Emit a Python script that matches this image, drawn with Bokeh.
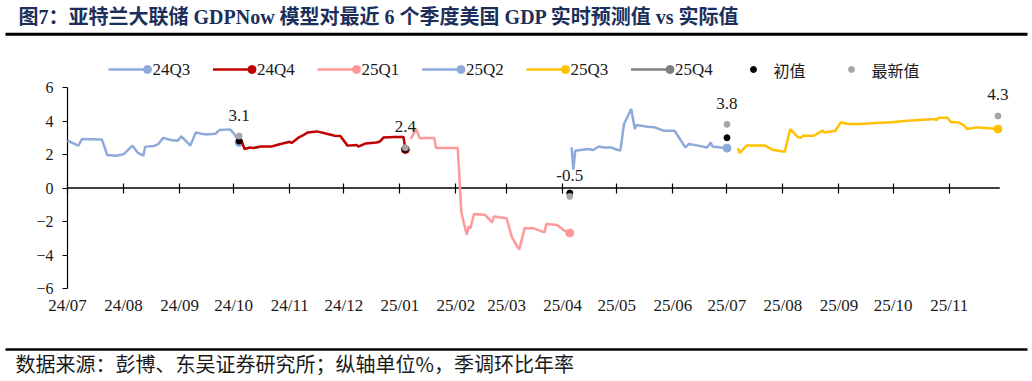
import pandas as pd
from bokeh.plotting import figure
from bokeh.models import Range1d, DatetimeAxis, LinearAxis, DatetimeTickFormatter, FixedTicker, ColumnDataSource
from bokeh.core.properties import value
from bokeh.embed import file_html
from bokeh.resources import INLINE

# ---------------- data ----------------
TITLE = "图7：亚特兰大联储 GDPNow 模型对最近 6 个季度美国 GDP 实时预测值 vs 实际值"
FOOTER = "数据来源：彭博、东吴证券研究所；纵轴单位%，季调环比年率"

d_24q3 = ["2024-07-01", "2024-07-07", "2024-07-09", "2024-07-20", "2024-07-23", "2024-07-28",
          "2024-08-01", "2024-08-06", "2024-08-09", "2024-08-12", "2024-08-13", "2024-08-18",
          "2024-08-20", "2024-08-23", "2024-08-27", "2024-08-31", "2024-09-02", "2024-09-07",
          "2024-09-10", "2024-09-13", "2024-09-16", "2024-09-21", "2024-09-23", "2024-09-29",
          "2024-10-01", "2024-10-03", "2024-10-04"]
v_24q3 = [2.82, 2.53, 2.92, 2.90, 1.97, 1.93, 2.01, 2.53, 2.09, 1.93, 2.47, 2.51,
          2.60, 2.99, 2.87, 2.82, 3.08, 2.53, 3.32, 3.24, 3.20, 3.24, 3.46, 3.50,
          3.26, 2.93, 2.72]

d_24q4 = ["2024-10-05", "2024-10-07", "2024-10-10", "2024-10-12", "2024-10-16", "2024-10-22",
          "2024-10-27", "2024-11-01", "2024-11-02", "2024-11-06", "2024-11-08", "2024-11-11",
          "2024-11-16", "2024-11-22", "2024-11-26", "2024-11-29", "2024-12-03", "2024-12-08",
          "2024-12-09", "2024-12-13", "2024-12-19", "2024-12-21", "2024-12-23", "2024-12-29",
          "2025-01-03", "2025-01-04"]
v_24q4 = [2.90, 2.33, 2.42, 2.39, 2.48, 2.48, 2.63, 2.76, 2.69, 3.02, 3.12, 3.32,
          3.38, 3.22, 3.12, 3.10, 2.53, 2.57, 2.47, 2.66, 2.72, 2.78, 3.02, 3.04,
          3.04, 2.30]

d_25q1 = ["2025-01-07", "2025-01-10", "2025-01-12", "2025-01-14", "2025-01-20", "2025-01-21",
          "2025-02-02", "2025-02-04", "2025-02-07", "2025-02-08", "2025-02-09", "2025-02-11",
          "2025-02-17", "2025-02-21", "2025-02-22", "2025-03-01", "2025-03-04", "2025-03-08",
          "2025-03-11", "2025-03-16", "2025-03-22", "2025-03-23", "2025-03-29", "2025-04-02",
          "2025-04-05"]
v_25q1 = [2.93, 3.52, 2.96, 2.99, 2.99, 2.39, 2.39, -1.46, -2.81, -2.29, -2.41, -1.55,
          -1.59, -2.05, -1.70, -1.81, -2.95, -3.68, -2.41, -2.41, -2.65, -2.15, -2.21, -2.55,
          -2.69]

d_25q2 = ["2025-04-06", "2025-04-07", "2025-04-08", "2025-04-12", "2025-04-15", "2025-04-18",
          "2025-04-21", "2025-04-24", "2025-04-28", "2025-04-30", "2025-05-03", "2025-05-05",
          "2025-05-09", "2025-05-11", "2025-05-12", "2025-05-18", "2025-05-22", "2025-05-27",
          "2025-06-02", "2025-06-08", "2025-06-10", "2025-06-15", "2025-06-20", "2025-06-22",
          "2025-06-23", "2025-07-01"]
v_25q2 = [2.42, 1.09, 2.23, 2.29, 2.33, 2.27, 2.48, 2.42, 2.42, 2.33, 2.23, 3.82,
          4.72, 3.52, 3.76, 3.66, 3.62, 3.42, 3.42, 2.42, 2.63, 2.53, 2.42, 2.72,
          2.48, 2.38]

d_25q3 = ["2025-07-07", "2025-07-08", "2025-07-12", "2025-07-22", "2025-07-26", "2025-08-02",
          "2025-08-05", "2025-08-09", "2025-08-11", "2025-08-12", "2025-08-18", "2025-08-23",
          "2025-08-24", "2025-08-30", "2025-09-02", "2025-09-06", "2025-09-13", "2025-09-21",
          "2025-09-30", "2025-10-09", "2025-10-24", "2025-10-25", "2025-10-26", "2025-10-31",
          "2025-11-02", "2025-11-06", "2025-11-09", "2025-11-11", "2025-11-16", "2025-11-28"]
v_25q3 = [2.37, 2.09, 2.53, 2.53, 2.29, 2.17, 3.52, 3.06, 2.99, 3.12, 3.12, 3.42,
          3.32, 3.42, 3.92, 3.82, 3.82, 3.88, 3.92, 4.02, 4.12, 4.04, 4.20, 4.20,
          3.92, 3.92, 3.76, 3.52, 3.62, 3.52]

d_25q4 = []
v_25q4 = []

series_names = ["24Q3", "24Q4", "25Q1", "25Q2", "25Q3", "25Q4"]
series_dates = [d_24q3, d_24q4, d_25q1, d_25q2, d_25q3, d_25q4]
series_vals = [v_24q3, v_24q4, v_25q1, v_25q2, v_25q3, v_25q4]
series_colors = ["#8eaadb", "#c00000", "#ff9999", "#8eaadb", "#ffc000", "#7f7f7f"]

release_dates = ["2024-10-04", "2025-01-04", "2025-04-05", "2025-07-01", "2025-11-28"]
initial_vals = [2.8, 2.3, -0.3, 3.0, float("nan")]
latest_vals = [3.1, 2.4, -0.5, 3.8, 4.3]
latest_labels = ["3.1", "2.4", "-0.5", "3.8", "4.3"]

x_tick_months = ["2024-07-01", "2024-08-01", "2024-09-01", "2024-10-01", "2024-11-01",
                 "2024-12-01", "2025-01-01", "2025-02-01", "2025-03-01", "2025-04-01",
                 "2025-05-01", "2025-06-01", "2025-07-01", "2025-08-01", "2025-09-01",
                 "2025-10-01", "2025-11-01"]
x_axis_start = "2024-07-01"
x_axis_end = "2025-11-29"
y_ticks = [-6, -4, -2, 0, 2, 4, 6]
y_min, y_max = -6, 6
legend_marker_names = ["初值", "最新值"]

# ---------------- styles / layout ----------------
SERIF = "Liberation Serif"
CJK = "Noto Sans CJK SC"
MIX = "Liberation Serif, Noto Sans CJK SC"
TITLE_COLOR = "#1b2f5a"
TEXT_COLOR = "#1a1a1a"
INIT_COLOR = "#000000"
LATEST_COLOR = "#a6a6a6"
W, H = 1032, 381
AX_L, AX_R = 67.0, 999.3      # pixel span of the date axis
AX_T, AX_B = 87.0, 288.0      # pixel span of the value axis (y_max .. y_min)


def ms(s):
    return pd.Timestamp(s).value / 1e6


# map the chart's data ranges so the axes land on the pixel spans above (frame = full canvas)
x0_ms, x1_ms = ms(x_axis_start), ms(x_axis_end)
px_per_ms = (AX_R - AX_L) / (x1_ms - x0_ms)
x_range = Range1d(x0_ms - AX_L / px_per_ms, x1_ms + (W - AX_R) / px_per_ms)
px_per_unit = (AX_B - AX_T) / (y_max - y_min)
y_range = Range1d(y_min - (H - AX_B) / px_per_unit, y_max + AX_T / px_per_unit)

p = figure(width=W, height=H, x_axis_type="datetime",
           x_axis_location=None, y_axis_location=None,
           x_range=x_range, y_range=y_range,
           min_border_left=0, min_border_right=0, min_border_top=0, min_border_bottom=0,
           output_backend="svg", toolbar_location=None)
p.outline_line_color = None
p.background_fill_color = "white"
p.border_fill_color = "white"
p.grid.visible = False
p.extra_x_ranges = {"px": Range1d(0, W)}
p.extra_y_ranges = {"px": Range1d(H, 0)}
PX = dict(x_range_name="px", y_range_name="px")

# ---------------- title + legend ----------------
p.text(x=[18], y=[16], text=[TITLE], text_font=value(MIX), text_font_size=value("20px"),
       text_font_style="bold", text_color=TITLE_COLOR, text_align="left", text_baseline="middle", **PX)
p.line([5, W - 5], [33.7, 33.7], line_color="black", line_width=3, **PX)

LEG_Y = 69
LEG_X0 = 108
LEG_STEP = 104.5
LEG_LEN = 39
for i, (nm, col) in enumerate(zip(series_names, series_colors)):
    x0 = LEG_X0 + i * LEG_STEP
    p.line([x0, x0 + LEG_LEN], [LEG_Y, LEG_Y], line_color=col, line_width=2.5, **PX)
    p.scatter([x0 + LEG_LEN], [LEG_Y], size=8, color=col, **PX)
    p.text([x0 + LEG_LEN + 5], [LEG_Y], text=[nm], text_font=value(SERIF),
           text_font_size=value("17px"), text_color=TEXT_COLOR, text_baseline="middle", **PX)
MK_X0 = 753
MK_STEP = 98
for j, (nm, col) in enumerate(zip(legend_marker_names, [INIT_COLOR, LATEST_COLOR])):
    xm = MK_X0 + j * MK_STEP
    p.scatter([xm], [LEG_Y], size=6, color=col, **PX)
    p.text([xm + 20], [LEG_Y], text=[nm], text_font=value(CJK),
           text_font_size=value("16px"), text_color=TEXT_COLOR, text_baseline="middle", **PX)

# ---------------- axes ----------------
month_ticks = [ms(s) for s in x_tick_months]
fmt = DatetimeTickFormatter(days="%y/%m", months="%y/%m", years="%y/%m", hours="%y/%m")

label_axis = DatetimeAxis(fixed_location=y_min, ticker=FixedTicker(ticks=month_ticks), formatter=fmt,
                          axis_line_color=None, major_tick_line_color=None, minor_tick_line_color=None,
                          major_label_standoff=1, major_label_text_font=SERIF,
                          major_label_text_font_size="17px", major_label_text_color=TEXT_COLOR)
p.add_layout(label_axis, "below")

zero_axis = DatetimeAxis(fixed_location=0, ticker=FixedTicker(ticks=month_ticks),
                         formatter=fmt, major_label_text_color=None,
                         major_tick_in=5, major_tick_out=5,
                         major_tick_line_color="black", major_tick_line_width=1.2,
                         minor_tick_line_color=None, axis_line_color=None)
p.add_layout(zero_axis, "below")
p.segment(x0=[pd.Timestamp(x_axis_start)], x1=[pd.Timestamp(x_axis_end)], y0=[0], y1=[0],
          line_color="black", line_width=1.5)

ya = LinearAxis(fixed_location=x0_ms, ticker=FixedTicker(ticks=y_ticks),
                major_tick_in=0, major_tick_out=5, minor_tick_line_color=None,
                axis_line_color=None, major_tick_line_color="black", major_tick_line_width=1.2,
                major_label_standoff=9, major_label_text_font=SERIF,
                major_label_text_font_size="16px", major_label_text_color=TEXT_COLOR)
p.add_layout(ya, "left")
p.segment(x0=[pd.Timestamp(x_axis_start)], x1=[pd.Timestamp(x_axis_start)], y0=[y_min], y1=[y_max],
          line_color="black", line_width=1.2)

# ---------------- series ----------------
for nm, ds, vs, col in zip(series_names, series_dates, series_vals, series_colors):
    if not ds:
        continue
    src = ColumnDataSource(dict(x=pd.to_datetime(ds), y=vs))
    p.line("x", "y", source=src, line_color=col, line_width=2.5)
    p.scatter([pd.to_datetime(ds[-1])], [vs[-1]], size=8, color=col)

rel = ColumnDataSource(dict(x=pd.to_datetime(release_dates), init=initial_vals,
                            latest=latest_vals, lab=latest_labels))
p.scatter("x", "init", source=rel, size=6, color=INIT_COLOR)
p.scatter("x", "latest", source=rel, size=6, color=LATEST_COLOR)
p.text("x", "latest", text="lab", source=rel, text_font=value(SERIF),
       text_font_size=value("17px"), text_color=TEXT_COLOR,
       text_align="center", text_baseline="middle", y_offset=-21)

# ---------------- footer ----------------
p.line([5, W - 5], [349, 349], line_color="black", line_width=2.5, **PX)
p.text(x=[15], y=[363], text=[FOOTER], text_font=value(CJK), text_font_size=value("20px"),
       text_color=TEXT_COLOR, text_align="left", text_baseline="middle", **PX)

open("out.html", "w").write(file_html(p, INLINE))
